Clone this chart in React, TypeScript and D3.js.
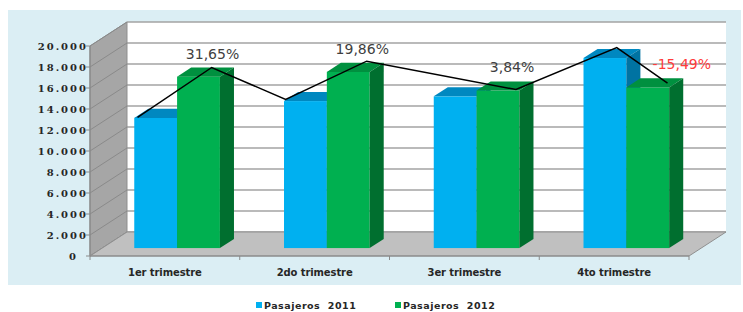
import React from 'react'
import * as d3 from 'd3'

// data
const categories = ['1er trimestre', '2do trimestre', '3er trimestre', '4to trimestre']
const pasajeros2011 = [12400, 14000, 14450, 18100]
const pasajeros2012 = [16325, 16780, 15005, 15296]
const variationLabels = ['31,65%', '19,86%', '3,84%', '-15,49%']
const yTicks = [0, 2000, 4000, 6000, 8000, 10000, 12000, 14000, 16000, 18000, 20000]
const seriesNames = ['Pasajeros  2011', 'Pasajeros  2012']

// the hand drawn trend line: category index, position inside the band, value
const lineCategory = [0, 0, 1, 1, 2, 3, 3]
const linePosition = [0.236, 0.731, 0.225, 0.766, 0.763, 0.436, 0.775]
const lineValues = [12450, 17200, 14150, 17800, 15100, 19100, 15700]

const W = 743
const H = 312
const DX = 37 // depth offset of the 3d box
const DY = 24
const zFront = 0.33
const zBack = 0.71

const colors = {
  blue: { front: '#00b0f0', top: '#0088c0', side: '#0073a2' },
  green: { front: '#00b050', top: '#00903f', side: '#006f2f' }
}

const es = d3.formatLocale({ decimal: ',', thousands: '.', grouping: [3], currency: ['', ''] })
const fmt = es.format(',')

export default function App() {
  const x = d3.scaleBand<string>().domain(categories).range([90, 689]).paddingInner(0).paddingOuter(0)
  const y = d3.scaleLinear().domain([0, 20000]).range([256, 46])
  const bw = x.bandwidth()
  const barW = bw * 0.286

  const pt = (px: number, py: number, z: number) => [px + z * DX, py - z * DY]
  const poly = (pts: number[][]) => pts.map(p => p.join(',')).join(' ')

  const [x0, x1] = x.range()
  const floorY = y(0)
  const topY = y(20000)

  const drawBar = (left: number, value: number, c: { front: string; top: string; side: string }, key: string) => {
    const right = left + barW
    const fl = pt(left, y(value), zFront)
    const fr = pt(right, y(value), zFront)
    const br = pt(right, y(value), zBack)
    const bl = pt(left, y(value), zBack)
    const bottomR = pt(right, floorY, zFront)
    const bottomRB = pt(right, floorY, zBack)
    return (
      <g key={key}>
        <rect x={fl[0]} y={fl[1]} width={barW} height={bottomR[1] - fr[1]} fill={c.front} />
        <polygon points={poly([fl, fr, br, bl])} fill={c.top} />
        <polygon points={poly([fr, br, bottomRB, bottomR])} fill={c.side} />
      </g>
    )
  }

  const line = d3.line<number>()
    .x((_, i) => (x(categories[lineCategory[i]]) as number) + linePosition[i] * bw + zFront * DX)
    .y(v => y(v) - zFront * DY)

  return (
    <svg width={W} height={H} style={{ position: 'absolute', left: 0, top: 0 }}>
      <rect x={8} y={10} width={733} height={275} fill="#dbeef4" />

      {/* back wall */}
      <rect x={x0 + DX} y={topY - DY} width={x1 - x0} height={floorY - topY} fill="#ffffff" />
      {yTicks.map(t => (
        <line key={'g' + t} x1={x0 + DX} x2={x1 + DX} y1={y(t) - DY} y2={y(t) - DY} stroke="#a3a3a3" strokeWidth={1.5} />
      ))}

      {/* side wall */}
      <polygon points={poly([[x0, floorY], [x0 + DX, floorY - DY], [x0 + DX, topY - DY], [x0, topY]])} fill="#a6a6a6" stroke="#8f8f8f" strokeWidth={1} />
      {yTicks.map(t => (
        <line key={'s' + t} x1={x0} x2={x0 + DX} y1={y(t)} y2={y(t) - DY} stroke="#8a8a8a" strokeWidth={1} />
      ))}

      {/* floor */}
      <polygon points={poly([[x0, floorY], [x1, floorY], [x1 + DX, floorY - DY], [x0 + DX, floorY - DY]])} fill="#c0c0c0" stroke="#8f8f8f" strokeWidth={1} />

      {/* axes */}
      <line x1={x0} x2={x0} y1={topY} y2={floorY} stroke="#8a8a8a" strokeWidth={1.2} />
      {yTicks.map(t => (
        <g key={'t' + t}>
          <line x1={x0 - 4} x2={x0} y1={y(t)} y2={y(t)} stroke="#8a8a8a" strokeWidth={1} />
          <text x={t === 0 ? 78 : 88} y={y(t) + 3.5} textAnchor="end" fontFamily="DejaVu Serif" fontWeight="bold" fontSize={10} letterSpacing={2} fill="#262626">
            {fmt(t)}
          </text>
        </g>
      ))}
      <line x1={x0} x2={x1} y1={floorY} y2={floorY} stroke="#8a8a8a" strokeWidth={1.2} />
      {[...categories.map(c => x(c) as number), x1].map((v, i) => (
        <line key={'xt' + i} x1={v} x2={v} y1={floorY} y2={floorY + 4} stroke="#8a8a8a" strokeWidth={1} />
      ))}
      {categories.map(c => (
        <text key={c} x={(x(c) as number) + bw / 2} y={276} textAnchor="middle" fontFamily="DejaVu Sans" fontWeight="bold" fontSize={10} letterSpacing={-0.1} fill="#262626">
          {c}
        </text>
      ))}

      {/* bars */}
      {categories.map((c, i) => {
        const center = (x(c) as number) + bw / 2
        return (
          <g key={'b' + c}>
            {drawBar(center - barW, pasajeros2011[i], colors.blue, 'a')}
            {drawBar(center, pasajeros2012[i], colors.green, 'b')}
          </g>
        )
      })}

      <path d={line(lineValues) as string} fill="none" stroke="#000" strokeWidth={1.5} />

      {categories.map((c, i) => {
        const center = (x(c) as number) + bw / 2
        const neg = variationLabels[i].startsWith('-')
        const p = pt(center + barW / 2, y(pasajeros2012[i]), zBack)
        return (
          <text key={'v' + c} x={p[0] + (neg ? 20 : 0)} y={p[1] - 9} textAnchor="middle" fontFamily="DejaVu Sans" fontSize={14} fill={neg ? '#ff3b3b' : '#404040'}>
            {variationLabels[i]}
          </text>
        )
      })}

      {/* legend */}
      {seriesNames.map((s, i) => (
        <g key={s} transform={`translate(${256 + i * 139},302)`}>
          <rect x={0} y={0} width={6} height={6} fill={i === 0 ? colors.blue.front : colors.green.front} />
          <text x={8} y={7} fontFamily="DejaVu Sans" fontWeight="bold" fontSize={9.5} letterSpacing={0.5} fill="#262626" style={{ whiteSpace: 'pre' }}>
            {s}
          </text>
        </g>
      ))}
    </svg>
  )
}
